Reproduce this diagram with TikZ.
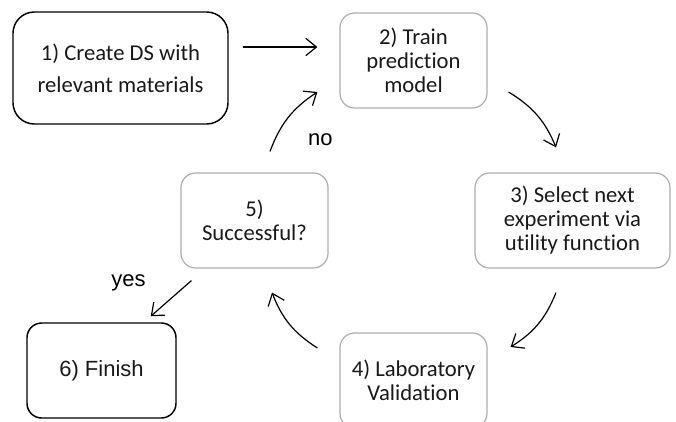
\documentclass[tikz,border=0pt]{standalone}
\usepackage{fontspec}
\setmainfont[Ligatures={NoCommon,NoContextual}]{Carlito}
\newfontfamily\arialfont{Liberation Sans}
\usetikzlibrary{arrows.meta}

\begin{document}
\begin{tikzpicture}[x=0.75pt,y=-0.75pt]
	\tikzstyle{stepbox} = [draw=gray!65, line width=0.9pt, rounded corners=11pt, align=center, inner sep=0pt, text=black!90, font=\fontsize{17}{18}\selectfont]
	\tikzstyle{endbox} = [stepbox, draw=black, line width=1.1pt]
	\tikzstyle{flow} = [-{Straight Barb[length=8pt,width=13pt]}, line width=0.9pt, bend left=18]
	\tikzstyle{answer} = [font=\arialfont\fontsize{16.5}{18}\selectfont]
	\useasboundingbox (0,0) rectangle (676,422);
	% the six steps of the loop
	\node (create) [endbox, minimum width=161.25pt, minimum height=84pt, rounded corners=16pt] at (120.5,68) {1) Create DS with\\[6pt]relevant materials};
	\node (train) [stepbox, minimum width=110.25pt, minimum height=71.25pt] at (413.5,60.5) {2) Train\\prediction\\model};
	\node (select) [stepbox, minimum width=146.25pt, minimum height=71.25pt] at (572.5,220.5) {3) Select next\\experiment via\\utility function};
	\node (lab) [stepbox, minimum width=110.25pt, minimum height=71.25pt] at (413.5,380.5) {4) Laboratory\\Validation};
	\node (check) [stepbox, minimum width=110.25pt, minimum height=71.25pt] at (254.5,220.5) {5)\\Successful?};
	\node (finish) [endbox, minimum width=111.75pt, minimum height=71.25pt, answer] at (101.5,370.5) {6) Finish};
	% connectors
	\draw[flow, bend left=0] ([shift={(14,-21)}]create.east) to ([shift={(-22,-13.5)}]train.west);
	\draw[flow] ([shift={(15.5,-21)}]check.north) to node[pos=0.5, answer, xshift=24pt, yshift=-17pt]{no} ([shift={(-22,31.5)}]train.west);
	\draw[flow] ([shift={(21,31.5)}]train.east) to ([shift={(-16.5,-25)}]select.north);
	\draw[flow] ([shift={(-16.5,24)}]select.south) to ([shift={(23,-33.5)}]lab.east);
	\draw[flow] ([shift={(-22,-32.5)}]lab.west) to ([shift={(17.5,24)}]check.south);
	\draw[flow, bend left=0] ([shift={(11,12)}]check.south west) to node[pos=0.5, answer, xshift=-32pt, yshift=12pt]{yes} ([shift={(-26,-6)}]finish.north east);
\end{tikzpicture}
\end{document}
